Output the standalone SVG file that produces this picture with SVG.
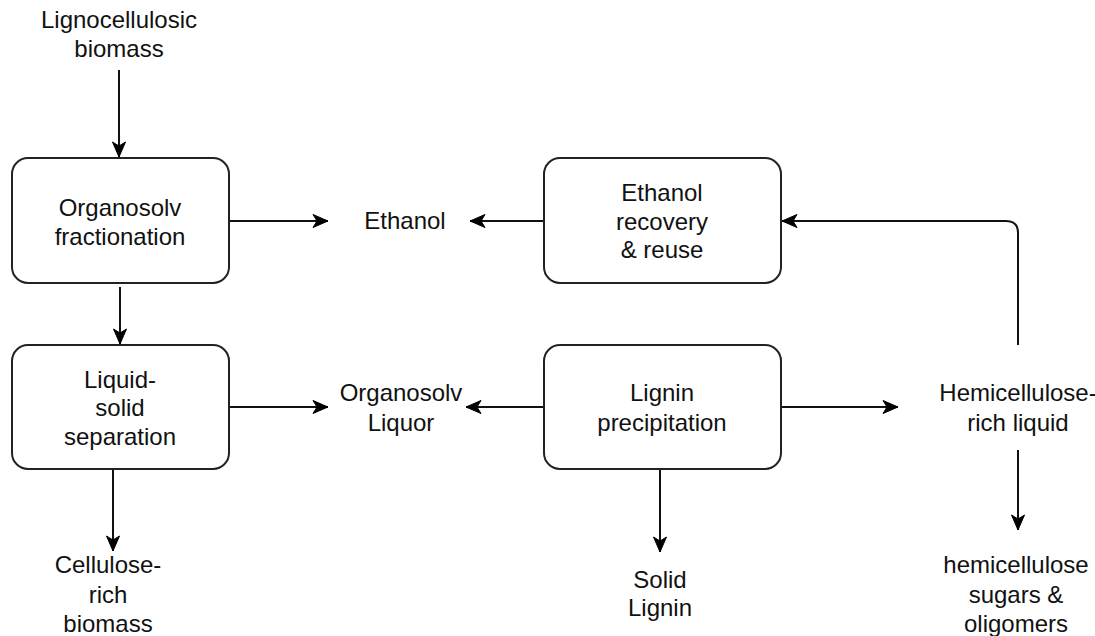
<svg xmlns="http://www.w3.org/2000/svg" width="1095" height="636" viewBox="0 0 1095 636">
<defs>
<marker id="arr" markerUnits="userSpaceOnUse" markerWidth="18" markerHeight="16" refX="16" refY="8" orient="auto">
<path d="M1,1.5 L16,8 L1,14.5 L5,8 Z" fill="#000" stroke="#000" stroke-width="1"/>
</marker>
<style>
.box{fill:#fff;stroke:#222;stroke-width:2}
.t{font-family:"Liberation Sans",Arial,sans-serif;font-size:24px;fill:#111;text-anchor:middle}
.c{fill:none;stroke:#111;stroke-width:2;marker-end:url(#arr)}
</style>
</defs>
<rect width="1095" height="636" fill="#fff"/>
<g id="connectors">
<path class="c" d="M119,70 V157"/>
<path class="c" d="M229,221 H328"/>
<path class="c" d="M544,221 H470"/>
<path class="c" d="M1018,345 V233 Q1018,221 1006,221 H782"/>
<path class="c" d="M120,287 V344"/>
<path class="c" d="M229,407 H328"/>
<path class="c" d="M544,407 H466"/>
<path class="c" d="M781,407 H898"/>
<path class="c" d="M1018,450 V530"/>
<path class="c" d="M113,469 V551"/>
<path class="c" d="M660,469 V552"/>
</g>
<g id="biomass"><text class="t" x="119" y="28">Lignocellulosic</text><text class="t" x="119" y="57">biomass</text></g>
<g id="fractionation"><rect class="box" x="12" y="158" width="217" height="125" rx="16"/><text class="t" x="120" y="216">Organosolv</text><text class="t" x="120" y="245">fractionation</text></g>
<g id="ethanol"><text class="t" x="405" y="229">Ethanol</text></g>
<g id="recovery"><rect class="box" x="544" y="158" width="237" height="125" rx="16"/><text class="t" x="662" y="201">Ethanol</text><text class="t" x="662" y="230">recovery</text><text class="t" x="662" y="258">&amp; reuse</text></g>
<g id="separation"><rect class="box" x="12" y="345" width="217" height="124" rx="16"/><text class="t" x="120" y="388">Liquid-</text><text class="t" x="120" y="416">solid</text><text class="t" x="120" y="445">separation</text></g>
<g id="liquor"><text class="t" x="401" y="401">Organosolv</text><text class="t" x="401" y="431">Liquor</text></g>
<g id="precipitation"><rect class="box" x="544" y="345" width="237" height="124" rx="16"/><text class="t" x="662" y="401">Lignin</text><text class="t" x="662" y="431">precipitation</text></g>
<g id="hemiliquid"><text class="t" x="1018" y="401">Hemicellulose-</text><text class="t" x="1018" y="431">rich liquid</text></g>
<g id="cellulose"><text class="t" x="108" y="573">Cellulose-</text><text class="t" x="108" y="603">rich</text><text class="t" x="108" y="632">biomass</text></g>
<g id="solidlignin"><text class="t" x="660" y="588">Solid</text><text class="t" x="660" y="616">Lignin</text></g>
<g id="sugars"><text class="t" x="1016" y="573">hemicellulose</text><text class="t" x="1016" y="603">sugars &amp;</text><text class="t" x="1016" y="632">oligomers</text></g>
</svg>
